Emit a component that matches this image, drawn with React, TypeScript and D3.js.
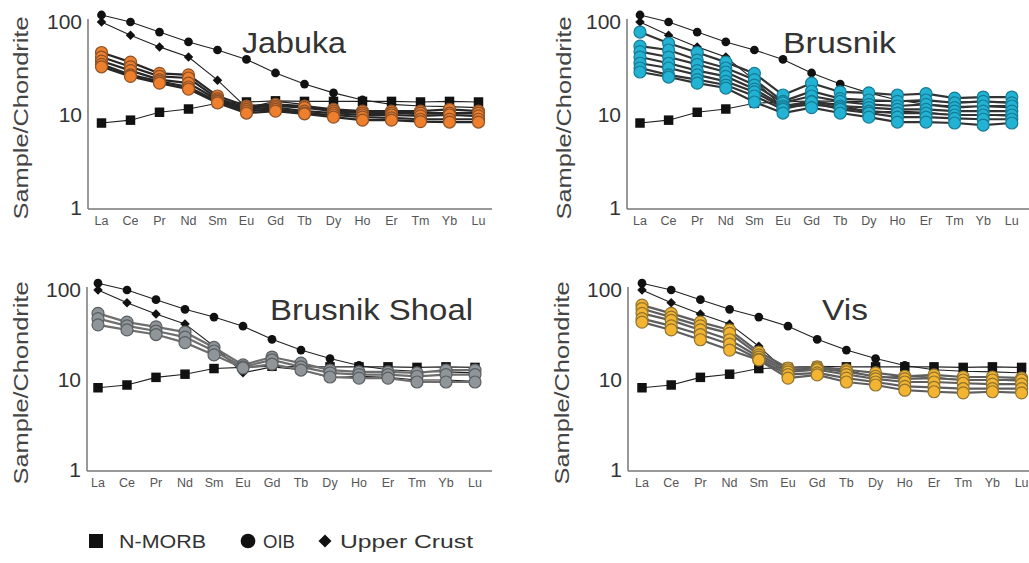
import React from "react";
import * as d3 from "d3";

const elements = ["La", "Ce", "Pr", "Nd", "Sm", "Eu", "Gd", "Tb", "Dy", "Ho", "Er", "Tm", "Yb", "Lu"];
const yTicks = [1, 10, 100];

// Reference compositions (chondrite normalized)
const nMorb = [8.2, 8.8, 10.7, 11.6, 13.4, 13.8, 14.2, 14, 14, 14, 14, 13.8, 14, 13.8];
const oib = [119, 100, 78, 61, 50, 39.6, 28.3, 21.5, 17.3, 14.5, 13, 12.5, 12.3, 12];
const upperCrust = [100, 72, 54, 42, 23.7, 12, 14, 13, 10.6, 11, 10.7, 10, 10, 9.7];

const jabuka = [
  [47, 37, 28, 27, 16, 12.5, 13, 12.5, 11.5, 11, 11, 11, 11.5, 11],
  [42, 33, 26, 25, 15, 12, 12.5, 12, 11, 10.5, 10.5, 10.5, 10.5, 10.5],
  [38, 30, 24, 22, 14.5, 11.5, 12, 11, 10.5, 10, 10, 9.8, 10, 9.8],
  [35, 27, 23, 20, 14, 11, 11.5, 10.5, 10, 9.5, 9.3, 9, 9, 9],
  [33, 26, 22, 19, 13.5, 10.5, 11, 10.3, 9.5, 8.8, 8.8, 8.5, 8.4, 8.4],
];

const brusnik = [
  [78, 59, 47, 37, 28, 16.4, 22, 17.7, 17.3, 16.4, 17, 15.2, 15.6, 15.6],
  [55, 50, 39, 32, 24, 14, 18, 15, 14.5, 14, 14.5, 13.5, 14, 13.5],
  [48, 42, 35, 29, 21, 13.5, 16, 14, 13, 12.5, 13, 12, 12.5, 12.5],
  [42, 36, 30, 26, 19, 12.5, 14, 12.5, 12, 11.5, 11.5, 11, 11, 11],
  [36, 32, 27, 23, 17.7, 12, 13, 12, 11, 10.5, 10.5, 10, 10, 10],
  [32, 27, 24, 21, 16, 11.5, 13.8, 11.5, 10.5, 9.5, 9.5, 9.2, 9, 9],
  [29, 25.6, 22, 19.5, 13.8, 10.5, 12, 10.5, 9.5, 8.4, 8.4, 8.2, 7.8, 8.2],
];

const brusnikShoal = [
  [55, 44, 39, 34, 23, 14.7, 18, 15.4, 12.9, 12.3, 12.3, 12, 12.9, 12.9],
  [48, 40, 35, 30, 21, 14, 16.7, 14, 12, 11.5, 11.5, 11, 11.5, 11.5],
  [41, 36, 32, 26, 19, 13.6, 15, 12.9, 10.8, 10.5, 10.5, 9.5, 9.5, 9.5],
];

const vis = [
  [68, 55, 44, 36, 20.4, 13.6, 14, 13, 12, 11, 11.4, 10.8, 10.8, 10.5],
  [62, 50, 40, 33, 19, 13, 13.5, 12.3, 11, 10.3, 10.5, 10, 10, 10],
  [55, 46, 36, 28, 18, 12.3, 13, 11.5, 10.3, 9.5, 9.5, 9.2, 9, 9],
  [48, 40, 32, 25, 17, 11.5, 12, 10.5, 9.5, 8.5, 8.3, 8, 8, 8],
  [44, 36, 28, 21.5, 16.7, 10.5, 11.4, 9.5, 8.8, 7.7, 7.4, 7.2, 7.4, 7.2],
];

const legendLabels = ["N-MORB", "OIB", "Upper Crust"];

type PanelCfg = {
  title: string;
  samples: number[][];
  axisX: number;
  yTop: number;
  yBot: number;
  x0: number;
  step: number;
  xEnd: number;
  titleX: number;
  titleY: number;
  titleLen: number;
  labelX: number;
  fill: string;
  stroke: string;
  lineColor: string;
};

const panels: PanelCfg[] = [
  { title: "Jabuka", samples: jabuka, axisX: 88, yTop: 22, yBot: 208, x0: 101.5, step: 29, xEnd: 492,
    titleX: 242, titleY: 53, titleLen: 104, labelX: 21, fill: "#ee7f2d", stroke: "#8c5128", lineColor: "#262626" },
  { title: "Brusnik", samples: brusnik, axisX: 627, yTop: 22, yBot: 208, x0: 640, step: 28.6, xEnd: 1029,
    titleX: 783, titleY: 53, titleLen: 113, labelX: 564, fill: "#22b2d4", stroke: "#177c95", lineColor: "#333333" },
  { title: "Brusnik Shoal", samples: brusnikShoal, axisX: 87, yTop: 290, yBot: 470, x0: 98, step: 29, xEnd: 492,
    titleX: 270, titleY: 320, titleLen: 203, labelX: 21, fill: "#8f9599", stroke: "#5a5f62", lineColor: "#6e6e6e" },
  { title: "Vis", samples: vis, axisX: 628, yTop: 290, yBot: 470, x0: 642, step: 29.2, xEnd: 1029,
    titleX: 822, titleY: 320, titleLen: 46, labelX: 562, fill: "#f3b531", stroke: "#8f7330", lineColor: "#5e5e5e" },
];

function Panel({ cfg }: { cfg: PanelCfg }) {
  const x = d3.scalePoint<string>().domain(elements).range([cfg.x0, cfg.x0 + cfg.step * (elements.length - 1)]);
  const y = d3.scaleLog().domain([1, 100]).range([cfg.yBot, cfg.yTop]);
  const line = d3
    .line<number>()
    .x((_, i) => x(elements[i]) as number)
    .y((v) => y(v));
  const refs = [
    { data: upperCrust, shape: "diamond" },
    { data: oib, shape: "circle" },
    { data: nMorb, shape: "square" },
  ];
  const symSquare = d3.symbol().type(d3.symbolSquare).size(90)();
  const symCircle = d3.symbol().type(d3.symbolCircle).size(60)();
  const symDiamond = d3.symbol().type(d3.symbolSquare).size(45)();
  const symOf = (s: string) => (s === "square" ? symSquare : s === "circle" ? symCircle : symDiamond);
  const midY = (cfg.yTop + cfg.yBot) / 2;
  return (
    <g>
      {/* axes */}
      <line x1={cfg.axisX} x2={cfg.axisX} y1={cfg.yTop - 3} y2={cfg.yBot + 1} stroke="#777" strokeWidth={1.5} />
      <line x1={cfg.axisX} x2={cfg.xEnd} y1={cfg.yBot + 1} y2={cfg.yBot + 1} stroke="#777" strokeWidth={1.5} />
      {yTicks.map((t) => (
        <text key={t} x={cfg.axisX - 6} y={y(t) + 7} textAnchor="end" fontSize={21} fill="#333"
          fontFamily="Liberation Sans, Arial, sans-serif">
          {t}
        </text>
      ))}
      {elements.map((e) => (
        <text key={e} x={x(e)} y={cfg.yBot + 17} textAnchor="middle" fontSize={12.5} fill="#555"
          fontFamily="Liberation Sans, Arial, sans-serif">
          {e}
        </text>
      ))}
      <text transform={`translate(${cfg.labelX + 7},${midY + 3}) rotate(-90)`} textAnchor="middle" fontSize={21}
        fill="#444" fontFamily="Liberation Sans, Arial, sans-serif" textLength={203} lengthAdjust="spacingAndGlyphs">
        Sample/Chondrite
      </text>
      <text x={cfg.titleX} y={cfg.titleY} fontSize={30} fill="#333" fontFamily="Liberation Sans, Arial, sans-serif"
        textLength={cfg.titleLen} lengthAdjust="spacingAndGlyphs">
        {cfg.title}
      </text>
      {/* reference lines */}
      {refs.map((r, i) => (
        <path key={"rl" + i} d={line(r.data) || ""} fill="none" stroke="#222" strokeWidth={1.1} />
      ))}
      {/* reference markers */}
      {refs.map((r, i) =>
        r.data.map((v, j) => (
          <path key={"rm" + i + "-" + j} d={symOf(r.shape) || ""}
            transform={`translate(${x(elements[j])},${y(v)})${r.shape === "diamond" ? " rotate(45)" : ""}`}
            fill="#111" />
        ))
      )}
      {/* sample lines */}
      {cfg.samples.map((s, i) => (
        <path key={"sl" + i} d={line(s) || ""} fill="none" stroke={cfg.lineColor} strokeWidth={2.2} />
      ))}
      {/* sample markers */}
      {cfg.samples.map((s, i) =>
        s.map((v, j) => (
          <circle key={"sm" + i + "-" + j} cx={x(elements[j])} cy={y(v)} r={6} fill={cfg.fill} stroke={cfg.stroke}
            strokeWidth={1.2} />
        ))
      )}
    </g>
  );
}

export default function App() {
  return (
    <svg width={1029} height={563} style={{ position: "absolute", left: 0, top: 0, background: "#fff" }}>
      <rect width={1029} height={563} fill="#fff" />
      {panels.map((p) => (
        <Panel key={p.title} cfg={p} />
      ))}
      {/* legend */}
      <g fontFamily="Liberation Sans, Arial, sans-serif" fontSize={18} fill="#333">
        <path d={d3.symbol().type(d3.symbolSquare).size(196)() || ""} transform="translate(96,541)" fill="#111" />
        <text x={119} y={548} textLength={87} lengthAdjust="spacingAndGlyphs">{legendLabels[0]}</text>
        <path d={d3.symbol().type(d3.symbolCircle).size(170)() || ""} transform="translate(248,541)" fill="#111" />
        <text x={263} y={548} textLength={32} lengthAdjust="spacingAndGlyphs">{legendLabels[1]}</text>
        <path d={d3.symbol().type(d3.symbolSquare).size(85)() || ""} transform="translate(325,541) rotate(45)"
          fill="#111" />
        <text x={340} y={548} textLength={133} lengthAdjust="spacingAndGlyphs">{legendLabels[2]}</text>
      </g>
    </svg>
  );
}
